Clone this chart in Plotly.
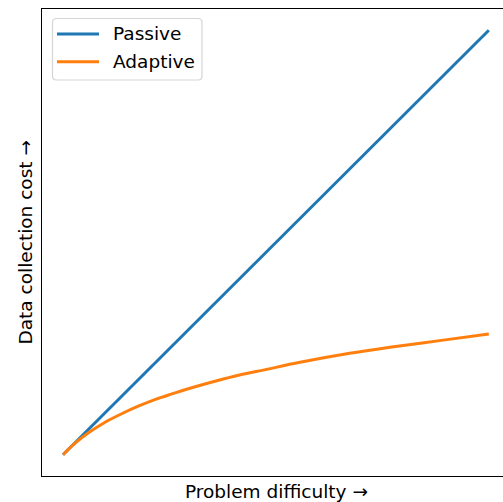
import plotly.graph_objects as go

# Problem difficulty (arbitrary units)
difficulty = [1.0, 1.25, 1.53, 1.89, 2.24, 2.59, 2.94, 3.30, 3.65, 4.00, 4.60,
              5.30, 6.01, 7.06, 7.91, 8.96, 10.0]
# Passive collection cost grows linearly with difficulty
passive_cost = [1.0, 1.25, 1.53, 1.89, 2.24, 2.59, 2.94, 3.30, 3.65, 4.00, 4.60,
                5.30, 6.01, 7.06, 7.91, 8.96, 10.0]
# Adaptive collection cost grows sub-linearly
adaptive_cost = [1.0, 1.24, 1.46, 1.69, 1.87, 2.03, 2.17, 2.29, 2.40, 2.50, 2.66,
                 2.81, 2.96, 3.15, 3.28, 3.42, 3.56]

series_names = ["Passive", "Adaptive"]
series_colors = ["#1f77b4", "#ff7f0e"]

FONT = "DejaVu Sans, sans-serif"
W, H = 503, 502
ML, MR, MT, MB = 42, 0, 9, 26
PW, PH = W - ML - MR, H - MT - MB


def px(x):
    """Horizontal pixel -> paper coordinate."""
    return (x - ML) / PW


def py(y):
    """Vertical pixel (from top) -> paper coordinate."""
    return 1 - (y - MT) / PH


fig = go.Figure()
fig.add_trace(go.Scatter(x=difficulty, y=passive_cost, mode="lines",
                         name=series_names[0], showlegend=False,
                         line=dict(color=series_colors[0], width=3)))
fig.add_trace(go.Scatter(x=difficulty, y=adaptive_cost, mode="lines",
                         name=series_names[1], showlegend=False,
                         line=dict(color=series_colors[1], width=3, shape="spline")))

# Legend box with rounded corners
x0, x1, y0, y1, r = 52.5, 202, 18.5, 80, 4
box = (f"M {px(x0 + r)},{py(y0)} L {px(x1 - r)},{py(y0)} "
       f"Q {px(x1)},{py(y0)} {px(x1)},{py(y0 + r)} "
       f"L {px(x1)},{py(y1 - r)} Q {px(x1)},{py(y1)} {px(x1 - r)},{py(y1)} "
       f"L {px(x0 + r)},{py(y1)} Q {px(x0)},{py(y1)} {px(x0)},{py(y1 - r)} "
       f"L {px(x0)},{py(y0 + r)} Q {px(x0)},{py(y0)} {px(x0 + r)},{py(y0)} Z")
shapes = [dict(type="path", path=box, xref="paper", yref="paper",
               fillcolor="rgba(255,255,255,0.8)",
               line=dict(color="#d5d5d5", width=1.2), layer="above")]
annotations = []
for i, (name, color) in enumerate(zip(series_names, series_colors)):
    yy = 34 + i * 27.7
    shapes.append(dict(type="line", xref="paper", yref="paper",
                       x0=px(57), x1=px(99), y0=py(yy), y1=py(yy),
                       line=dict(color=color, width=3), layer="above"))
    annotations.append(dict(text=name, xref="paper", yref="paper",
                            x=px(111), y=py(yy), xanchor="left", yanchor="middle",
                            showarrow=False,
                            font=dict(family=FONT, size=18.5, color="black")))

annotations += [
    dict(text="Problem difficulty →", xref="paper", yref="paper",
         x=px(276), y=py(491), xanchor="center", yanchor="middle",
         showarrow=False, font=dict(family=FONT, size=18.5, color="black")),
    dict(text="Data collection cost →", xref="paper", yref="paper",
         x=px(25), y=0.5, xanchor="center", yanchor="middle",
         textangle=-90, showarrow=False,
         font=dict(family=FONT, size=18.5, color="black")),
]

fig.update_layout(
    width=W, height=H,
    margin=dict(l=ML, r=MR, t=MT, b=MB),
    paper_bgcolor="white", plot_bgcolor="white",
    font=dict(family=FONT, size=18.5, color="black"),
    showlegend=False,
    xaxis=dict(range=[0.556, 10.30], showgrid=False, zeroline=False,
               showticklabels=False, ticks="", showline=True, linecolor="black",
               linewidth=1.3, mirror=True, fixedrange=True),
    yaxis=dict(range=[0.55, 10.45], showgrid=False, zeroline=False,
               showticklabels=False, ticks="", showline=True, linecolor="black",
               linewidth=1.3, mirror=False, fixedrange=True),
    shapes=shapes,
    annotations=annotations,
)

fig.write_html("out.html")
